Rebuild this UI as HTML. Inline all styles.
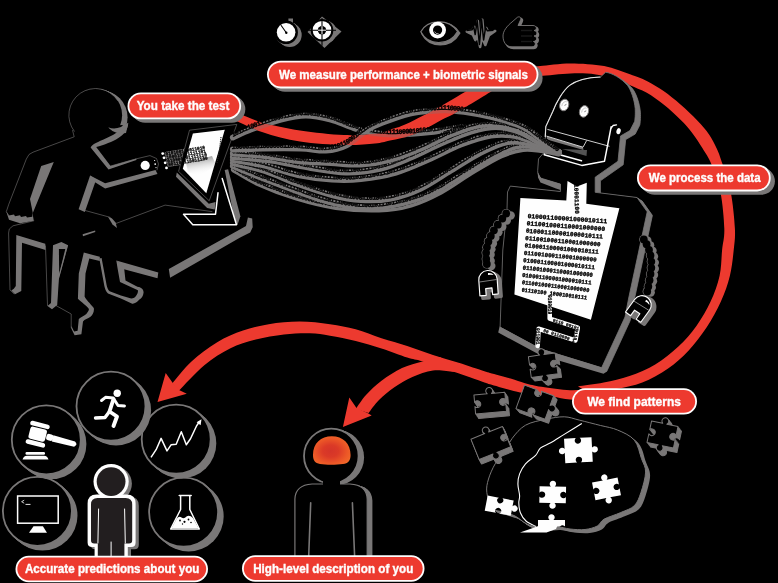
<!DOCTYPE html>
<html><head><meta charset="utf-8"><title>How it works</title>
<style>
html,body{margin:0;padding:0;background:#000;}
body{width:778px;height:583px;overflow:hidden;font-family:"Liberation Sans",sans-serif;}
svg{display:block}
.lbl{font-family:"Liberation Sans",sans-serif;font-weight:bold;font-size:12.2px;fill:#fff}
.bin{font-family:"Liberation Mono",monospace;font-weight:bold}
</style></head>
<body>
<svg width="778" height="583" viewBox="0 0 778 583">
<rect width="778" height="583" fill="#000"/>
<g style="will-change:opacity;opacity:0.999">
<path d="M236.0,112.0 C240.3,113.8 251.3,119.4 262.0,122.5 C272.7,125.6 286.3,128.4 300.0,130.5 C313.7,132.6 331.5,134.5 344.0,135.0 C356.5,135.5 367.3,134.4 375.0,133.5 C382.7,132.6 384.7,131.3 390.0,129.7 C395.3,128.1 398.4,127.7 406.8,123.8 C415.2,119.9 429.9,112.1 440.5,106.2 C451.1,100.3 464.8,92.0 470.7,88.5 C476.6,85.0 475.1,85.6 476.0,85.0 L500.0,85.0 C499.3,85.6 503.1,84.0 496.0,88.5 C488.9,93.0 466.6,106.7 457.3,112.0 C448.1,117.3 447.5,116.8 440.5,120.4 C433.5,124.1 423.6,130.5 415.2,133.9 C406.8,137.3 396.7,139.0 390.0,140.6 C383.3,142.2 382.7,142.8 375.0,143.5 C367.3,144.2 356.5,145.3 344.0,145.0 C331.5,144.7 313.7,143.7 300.0,141.5 C286.3,139.3 274.0,136.1 262.0,132.0 C250.0,127.9 233.7,119.5 228.0,117.0Z" fill="#ee3b30" />
<path d="M532.0,66.5 C533.4,66.4 533.8,66.5 540.2,66.0 C546.6,65.5 559.9,63.4 570.5,63.4 C581.1,63.4 594.2,64.2 604.1,66.0 C614.0,67.8 622.9,71.8 630.0,74.3 C637.1,76.8 641.2,78.2 646.8,81.0 C652.4,83.8 658.0,87.2 663.6,91.1 C669.2,95.0 674.9,99.7 680.5,104.6 C686.1,109.5 692.6,115.6 697.3,120.5 C702.0,125.4 705.7,129.6 708.9,134.2 C712.1,138.8 714.4,143.4 716.6,148.3 C718.9,153.2 720.0,156.4 722.4,163.8 C724.8,171.2 728.7,181.8 730.8,192.6 C732.9,203.4 734.4,219.0 734.9,228.6 C735.4,238.2 734.5,242.2 733.7,250.0 C732.9,257.9 732.0,267.1 729.9,275.7 C727.8,284.3 724.8,292.9 720.9,301.5 C717.0,310.1 712.1,319.1 706.7,327.2 C701.3,335.3 695.1,343.5 688.7,350.4 C682.3,357.3 675.8,363.0 668.1,368.4 C660.4,373.8 650.9,379.2 642.3,382.6 C633.7,386.0 625.3,387.3 616.6,389.0 C607.9,390.7 594.4,392.3 590.0,393.0 L578.0,386.4 C582.3,385.8 595.1,384.3 603.7,382.6 C612.3,380.9 620.9,379.1 629.5,376.1 C638.1,373.1 647.1,369.4 655.2,364.5 C663.4,359.6 671.5,352.9 678.4,346.5 C685.3,340.1 691.0,333.4 696.4,325.9 C701.8,318.4 706.7,309.9 710.6,301.5 C714.5,293.1 717.7,284.3 719.6,275.7 C721.5,267.1 721.3,257.9 722.1,250.0 C722.9,242.2 724.6,238.2 724.3,228.6 C724.0,219.0 722.6,203.3 720.5,192.6 C718.4,181.9 714.5,171.8 711.5,164.4 C708.5,157.0 705.7,153.6 702.5,148.3 C699.3,143.1 695.9,137.7 692.2,132.9 C688.5,128.1 685.3,124.4 680.5,119.7 C675.7,115.0 669.2,109.1 663.6,104.6 C658.0,100.1 652.4,96.0 646.8,92.8 C641.2,89.6 634.3,87.3 630.0,85.2 C625.7,83.1 626.6,82.1 620.9,80.3 C615.2,78.5 604.1,75.5 595.7,74.4 C587.3,73.3 579.8,73.2 570.5,73.5 C561.2,73.8 546.6,75.6 540.2,76.1 C533.8,76.6 533.4,76.4 532.0,76.5Z" fill="#ee3b30" />
<path d="M604.0,384.0 C601.7,384.8 595.7,387.5 590.0,388.5 C584.3,389.5 578.1,390.5 570.0,390.2 C561.9,389.9 549.0,388.0 541.5,386.8 C534.0,385.6 530.1,384.6 525.0,383.2 C519.9,381.8 516.4,380.2 510.6,378.5 C504.8,376.8 494.4,374.1 490.0,372.9 C485.6,371.7 489.6,373.0 484.4,371.3 C479.2,369.6 467.3,365.5 458.7,362.8 C450.1,360.1 441.6,357.8 433.0,355.0 C424.4,352.2 415.8,348.8 407.2,346.0 C398.6,343.2 390.1,341.1 381.5,338.3 C372.9,335.5 364.3,331.7 355.7,329.3 C347.1,326.9 339.4,325.5 330.0,324.2 C320.6,322.9 309.8,321.6 299.6,321.6 C289.4,321.6 278.1,322.7 268.7,324.2 C259.3,325.7 251.6,327.6 243.0,330.6 C234.4,333.6 225.8,337.1 217.2,342.2 C208.6,347.3 199.0,354.6 191.5,361.5 C184.0,368.4 175.4,379.8 172.2,383.4 L178.6,391.1 C182.9,386.8 195.7,372.4 204.3,365.3 C212.9,358.2 221.4,352.9 230.0,348.6 C238.6,344.3 246.8,342.0 255.8,339.6 C264.8,337.2 275.0,335.6 284.0,334.5 C293.0,333.4 302.2,333.0 309.9,333.2 C317.6,333.4 322.4,334.4 330.0,335.7 C337.6,337.0 347.1,338.8 355.7,340.9 C364.3,343.0 372.9,345.8 381.5,348.6 C390.1,351.4 400.3,355.5 407.2,357.6 C414.1,359.8 415.0,359.1 422.7,361.5 C430.4,363.9 443.3,368.3 453.6,371.8 C463.9,375.3 478.3,380.3 484.4,382.4 C490.5,384.5 485.1,382.8 490.0,384.2 C494.9,385.6 507.0,389.3 513.7,390.9 C520.4,392.5 523.6,392.9 530.0,393.8 C536.4,394.7 545.1,395.5 551.8,396.5 C558.5,397.5 563.6,399.0 570.0,399.6 C576.4,400.2 584.3,400.3 590.0,400.0 C595.7,399.7 601.7,398.3 604.0,398.0Z" fill="#ee3b30" />
<polygon points="157.5,401.9 165.7,373.0 173.5,384.0 179.0,390.0 186.8,393.7" fill="#ee3b30" />
<path d="M440.0,357.0 C437.1,357.8 429.0,359.7 422.7,361.5 C416.4,363.3 408.9,364.8 402.0,368.0 C395.1,371.2 387.5,376.3 381.5,380.8 C375.5,385.3 370.3,390.3 366.0,395.0 C361.7,399.7 357.4,406.7 355.7,409.0 L368.6,413.0 C370.3,410.8 374.7,404.3 379.0,400.0 C383.3,395.7 388.8,391.0 394.4,387.2 C400.0,383.4 406.0,379.8 412.4,377.0 C418.8,374.2 426.1,371.4 433.0,370.5 C439.9,369.6 449.1,371.4 453.6,371.8 C458.1,372.2 458.9,372.8 460.0,373.0Z" fill="#ee3b30" />
<polygon points="342.9,427.1 349.3,397.5 356.5,408.0 367.5,413.0 371.7,415.5" fill="#ee3b30" />
<g id="man">
<circle cx="96.54" cy="115.70" r="26.9" fill="#7a7878"/>
<circle cx="97.58" cy="116.10" r="26.9" fill="#7a7878"/>
<circle cx="98.62" cy="116.50" r="26.9" fill="#7a7878"/>
<circle cx="99.66" cy="116.90" r="26.9" fill="#7a7878"/>
<circle cx="100.70" cy="117.30" r="26.9" fill="#7a7878"/>
<circle cx="95.5" cy="115.3" r="26.6" fill="#000"/>
<polygon points="73.5,128.0 74.0,137.5 60.0,143.0 80.0,160.0 108.0,170.0 125.0,140.0 122.5,125.0" fill="#000" />
<path d="M128.2,123.2 C128,135.5 113,142.3 96.2,147 L110.6,166 L136.4,158.6 L136.4,160 L108.5,169.5 L90.6,147.6 C93,141 118,137 121.8,126.5 Z" fill="#7a7878" />
<path d="M108.3,127.2 C114,129.8 121,128.2 128.3,122.8 L126,133 C119,134.5 112,132 108.3,127.2Z" fill="#7a7878" />
<polygon points="41.2,166.0 53.8,162.1 32.8,213.0 30.0,199.0" fill="#7a7878" />
<polygon points="6.3,211.7 8.8,215.4 14.0,214.5 15.0,216.2 20.0,215.3 21.0,217.0 26.0,216.0 27.0,217.5 32.3,216.7 32.3,212.0 33.8,220.8 20.0,223.3 9.0,219.8" fill="#7a7878" />
<polygon points="90.1,175.4 96.0,180.0 84.8,212.0 78.6,209.2" fill="#7a7878" />
<polygon points="90.1,175.4 105.1,183.2 155.5,170.0 157.5,174.0 105.1,188.5 93.0,181.0" fill="#7a7878" />
<polygon points="108.0,216.8 112.0,218.5 115.6,222.5 117.0,228.0 112.5,224.5" fill="#7a7878" />
<polygon points="16.3,235.0 45.3,243.8 45.5,250.0 22.0,242.7 21.3,291.0 15.0,294.3 11.3,290.5 13.8,288.8 15.8,286.0" fill="#7a7878" />
<polygon points="53.0,245.3 61.4,242.0 68.1,245.3 58.9,279.0 57.2,305.0 52.0,309.3 47.5,306.0 51.0,303.0" fill="#7a7878" />
<polygon points="58.9,249.0 65.3,249.0 59.2,274.0" fill="#000" />
<path d="M83.8,252.6 L99.8,256.8 L99.8,261 L89.3,258.5 L85.5,273.6 L84.6,296.5 C86,300 90,303 93.8,308.1 C94.5,311.5 92.5,315 90.5,316.8 C88,318.5 84.5,319.5 83,321.5 L81.4,334.3 L74.6,335.2 L71.2,328.3 L71.4,326 L74.1,331.6 L77.6,330.8 L78.8,319 C80.5,317 84.5,316 86.3,314 C88,312 89,310.5 88.9,308.9 C87,306 81,302 77.9,298.8 L78.8,273.6 Z" fill="#7a7878" />
<path d="M116.3,260.4 L124,267 L125.5,280.5 L137.4,286.7 C141,287.2 143.6,289 143.6,292.4 C143.2,296 141.5,298.2 139.4,299.6 C137,302.5 134.5,304 132.2,303.7 L120.9,298.6 L108,293.4 C106,291.5 105,289 104.4,286.2 L99.3,258.4 L101.6,258 L106.6,285 C107.2,288 108.2,290 109.6,291.3 L120.9,295.5 L131.2,298.6 C133.5,298.6 135.2,297.2 136.3,295.5 C137.5,294 138.2,292 137.9,290.3 L120,282.1 L117.5,268 Z" fill="#7a7878" />
<polygon points="116.3,260.4 158.3,272.4 157.5,278.2 124.0,269.2" fill="#7a7878" />
<polygon points="168.8,268.9 238.9,230.1 246.0,226.0 247.9,217.6 252.2,218.6 252.7,227.3 250.2,232.6 240.2,237.6 170.1,277.7" fill="#7a7878" />
<polygon points="82.6,234.2 95.1,230.5 95.3,232.0 83.0,236.2" fill="#7a7878" />
<path d="M74.5,131.5 A26.6,26.6 0 1 1 118,101" fill="none" stroke="#7a7878" stroke-width="0.6"/>
<polyline points="72.6,130.5 74.2,136.8 33.0,152.2 29.0,154.5 26.3,159.1 8.8,204.2 6.3,211.7 8.8,215.4" fill="none" stroke="#7a7878" stroke-width="0.6" stroke-linejoin="round" stroke-linecap="round" />
<polyline points="110.6,166.0 136.4,158.8 150.0,155.6 156.5,158.5 158.5,164.0 157.0,170.0" fill="none" stroke="#7a7878" stroke-width="0.6" stroke-linejoin="round" stroke-linecap="round" />
<polyline points="85.1,210.5 110.1,217.3 115.1,223.8 165.1,205.1 212.0,211.6" fill="none" stroke="#7a7878" stroke-width="0.6" stroke-linejoin="round" stroke-linecap="round" />
<polyline points="33.8,220.8 13.0,225.8 9.3,229.0 8.6,233.0 10.0,290.0 14.0,293.8" fill="none" stroke="#7a7878" stroke-width="0.6" stroke-linejoin="round" stroke-linecap="round" />
<polyline points="45.5,246.0 47.5,305.5" fill="none" stroke="#7a7878" stroke-width="0.6" stroke-linejoin="round" stroke-linecap="round" />
<polyline points="67.3,245.9 57.8,280.3 56.1,305.6 71.2,314.0 71.2,327.4" fill="none" stroke="#7a7878" stroke-width="0.6" stroke-linejoin="round" stroke-linecap="round" />
<circle cx="145.2" cy="165.4" r="4.6" fill="#fff"/>
<circle cx="155.2" cy="164.1" r="0.9" fill="#fff"/>
<circle cx="154.6" cy="160.5" r="0.6" fill="#fff"/>
<circle cx="156" cy="167.6" r="0.6" fill="#fff"/>
<circle cx="162.7" cy="153.6" r="1.4" fill="#fff"/>
<circle cx="164" cy="157.8" r="1.4" fill="#fff"/>
<circle cx="165.2" cy="162.8" r="1.4" fill="#fff"/>
<circle cx="166.5" cy="167.9" r="1.4" fill="#fff"/>
<g transform="translate(167,166.5) rotate(-9.5)">
<rect x="0.5" y="-3.6" width="30" height="4.2" rx="2" fill="#7a7878"/>
<rect x="0.2" y="-7.3" width="30" height="4.2" rx="2" fill="#7a7878"/>
<rect x="-0.1" y="-11.0" width="30" height="4.2" rx="2" fill="#7a7878"/>
<rect x="-0.4" y="-14.7" width="30" height="4.2" rx="2" fill="#7a7878"/>
</g>
<polygon points="176.8,172.6 208.8,203.7 215.5,202.0 214.7,209.6 207.1,207.9 176.0,176.8" fill="#7a7878" />
<polygon points="224.7,170.1 228.1,169.2 240.4,216.3 237.4,225.3 234.0,217.2" fill="#7a7878" />
<polygon points="189.5,130.2 236.8,124.4 209.2,200.8 178.6,171.4" fill="#000" stroke="#7a7878" stroke-width="0.6"/>
<polygon points="192.9,133.5 224.8,129.8 206.3,193.2 182.8,168.8" fill="#fff" />
<defs><linearGradient id="scrsh" x1="0" y1="0" x2="0.25" y2="1"><stop offset="0" stop-color="#555" stop-opacity="0.85"/><stop offset="1" stop-color="#fff" stop-opacity="0"/></linearGradient><clipPath id="scrclip"><polygon points="192.9,133.5 224.8,129.8 206.3,193.2 182.8,168.8"/></clipPath></defs>
<g clip-path="url(#scrclip)"><polygon points="186,163 212,156 216,165 200,176 188,172" fill="url(#scrsh)"/></g>
<g transform="translate(167,166.5) rotate(-9.5)">
<text class="bin" x="1.5" y="0.0" font-size="4.8" fill="#000" stroke="#000" stroke-width="0.25" textLength="40" lengthAdjust="spacingAndGlyphs">001100110011100</text>
<text class="bin" x="1.2" y="-3.7" font-size="4.8" fill="#000" stroke="#000" stroke-width="0.25" textLength="40" lengthAdjust="spacingAndGlyphs">010000101111110</text>
<text class="bin" x="0.9" y="-7.4" font-size="4.8" fill="#000" stroke="#000" stroke-width="0.25" textLength="40" lengthAdjust="spacingAndGlyphs">100010111111101</text>
<text class="bin" x="0.6" y="-11.1" font-size="4.8" fill="#000" stroke="#000" stroke-width="0.25" textLength="40" lengthAdjust="spacingAndGlyphs">010100110011010</text>
</g>
<path d="M221,137 L219.5,150 L217,163" stroke="#222" stroke-width="1.1" stroke-dasharray="1.2 0.9" fill="none"/>
<polyline points="218.0,192.8 215.5,214.2 183.5,214.2 192.8,224.7 236.5,224.7 222.2,178.5" fill="none" stroke="#fff" stroke-width="1.5" stroke-linejoin="round" stroke-linecap="round" />
</g>
<g id="circles">
<circle cx="38.65" cy="512.35" r="35.1" fill="#7a7878"/><circle cx="39.90" cy="513.40" r="35.1" fill="#7a7878"/><circle cx="41.15" cy="514.45" r="35.1" fill="#7a7878"/><circle cx="42.40" cy="515.50" r="35.1" fill="#7a7878"/><circle cx="37.4" cy="511.3" r="34.5" fill="#000" stroke="#7a7878" stroke-width="1.8"/>
<circle cx="184.85" cy="513.25" r="35.1" fill="#7a7878"/><circle cx="186.10" cy="514.30" r="35.1" fill="#7a7878"/><circle cx="187.35" cy="515.35" r="35.1" fill="#7a7878"/><circle cx="188.60" cy="516.40" r="35.1" fill="#7a7878"/><circle cx="183.6" cy="512.2" r="34.5" fill="#000" stroke="#7a7878" stroke-width="1.8"/>
<circle cx="47.55" cy="440.85" r="35.1" fill="#7a7878"/><circle cx="48.80" cy="441.90" r="35.1" fill="#7a7878"/><circle cx="50.05" cy="442.95" r="35.1" fill="#7a7878"/><circle cx="51.30" cy="444.00" r="35.1" fill="#7a7878"/><circle cx="46.3" cy="439.8" r="34.5" fill="#000" stroke="#7a7878" stroke-width="1.8"/>
<circle cx="177.45" cy="440.25" r="35.1" fill="#7a7878"/><circle cx="178.70" cy="441.30" r="35.1" fill="#7a7878"/><circle cx="179.95" cy="442.35" r="35.1" fill="#7a7878"/><circle cx="181.20" cy="443.40" r="35.1" fill="#7a7878"/><circle cx="176.2" cy="439.2" r="34.5" fill="#000" stroke="#7a7878" stroke-width="1.8"/>
<circle cx="112.25" cy="407.25" r="35.1" fill="#7a7878"/><circle cx="113.50" cy="408.30" r="35.1" fill="#7a7878"/><circle cx="114.75" cy="409.35" r="35.1" fill="#7a7878"/><circle cx="116.00" cy="410.40" r="35.1" fill="#7a7878"/><circle cx="111" cy="406.2" r="34.5" fill="#000" stroke="#7a7878" stroke-width="1.8"/>
<g fill="none" stroke="#fff" stroke-linecap="round" stroke-linejoin="round">
<circle cx="117.2" cy="393.2" r="3.7" fill="#fff" stroke="none"/>
<path d="M101.5,400.5 L105.5,397.3 L113.2,398 L118,405.5 L124.5,406" stroke-width="2.9"/>
<path d="M113.5,399 L109.5,411.5 L117,416.5 L113.5,426" stroke-width="3.9"/>
<path d="M109.5,411.5 L105,417.5 L95.5,418" stroke-width="3.4"/>
</g>
<g fill="#fff">
<g transform="translate(38,435) rotate(14)">
<rect x="-10.5" y="-12.5" width="20" height="4.6" rx="2.2"/>
<rect x="-9" y="-7" width="17" height="12.5" rx="2.5"/>
<rect x="-10.5" y="6.5" width="20" height="4.6" rx="2.2"/>
<rect x="8.5" y="-3.8" width="7" height="6.5" rx="2.5"/>
<path d="M15,-3.4 L37.5,-2.6 Q41.5,-0.2 37.8,2.6 L15,3 Z"/>
</g>
<rect x="25.5" y="452" width="19.5" height="2.8" rx="1.2"/>
<path d="M22.5,459.5 Q23.5,456 27,455.8 L44,455.8 Q47.5,456 48.5,459.5 Z"/>
</g>
<polyline points="151,457.3 156.1,449.7 161.1,438.4 167,450.9 171.2,444.7 176.2,444.2 181.3,431.7 186.3,444.7 190.5,438.8 196.4,426.2 199.2,422" fill="none" stroke="#fff" stroke-width="1.5" stroke-linejoin="round"/>
<polygon points="201.5,419.3 200.6,425.2 196.6,422.3" fill="#fff"/>
<rect x="17.6" y="496" width="40.6" height="27.2" fill="none" stroke="#fff" stroke-width="1.5"/>
<polygon points="33.5,526.2 42.9,526.2 47,532.8 29,532.8" fill="#fff"/>
<polyline points="24.2,500.2 21.6,501.7 24.2,503.2" fill="none" stroke="#fff" stroke-width="0.8"/>
<line x1="25.5" y1="504.4" x2="30.5" y2="504.4" stroke="#fff" stroke-width="0.9"/>
<g>
<path d="M179.2,495.5 L191.2,495.5 M180.6,496 L180.6,509.5 L170.7,529 L199.3,529 L189.8,509.5 L189.8,496" fill="none" stroke="#fff" stroke-width="1.5" stroke-linejoin="round" stroke-linecap="round"/>
<path d="M176.5,519 Q179,515.5 181.5,517.5 Q184,519.5 186.5,516.5 Q189.5,514.5 193,518 L198.5,528.3 L171.5,528.3 Z" fill="#fff"/>
<circle cx="180" cy="520.5" r="0.9" fill="#000"/>
<circle cx="184.5" cy="521.8" r="1.1" fill="#000"/>
<circle cx="188.5" cy="519.5" r="0.9" fill="#000"/>
<circle cx="191" cy="522.5" r="0.8" fill="#000"/>
<circle cx="182.5" cy="524" r="0.7" fill="#000"/>
</g>
<g fill="#7a7878" transform="translate(3.2,2.2)"><circle cx="111.1" cy="481.6" r="17.6"/><path d="M87.6,542.5 L87.6,503.5 Q87.6,494.5 96.6,494.5 L126.6,494.5 Q135.6,494.5 135.6,503.5 L135.6,542.5 Q135.6,547 131.1,547 L127.8,547 L127.8,560 L94.6,560 L94.6,547 L92.1,547 Q87.6,547 87.6,542.5 Z"/></g>
<g fill="#fff"><circle cx="111.1" cy="481.6" r="17.6"/><path d="M87.6,542.5 L87.6,503.5 Q87.6,494.5 96.6,494.5 L126.6,494.5 Q135.6,494.5 135.6,503.5 L135.6,542.5 Q135.6,547 131.1,547 L127.8,547 L127.8,560 L94.6,560 L94.6,547 L92.1,547 Q87.6,547 87.6,542.5 Z"/></g>
<g fill="#231f20"><circle cx="111.1" cy="481.6" r="14.4"/><path d="M91,540.3 L91,504.5 Q91,498 97.5,498 L125.69999999999999,498 Q132.2,498 132.2,504.5 L132.2,540.3 Q132.2,543.5 129.0,543.5 L124.4,543.5 L124.4,560 L97.8,560 L97.8,543.5 L94.2,543.5 Q91,543.5 91,540.3 Z"/></g>
<path d="M98.6,509 L97.9,543 M124.6,509 L125.3,543 M111.1,542 L111.1,560" stroke="#fff" stroke-width="1" fill="none" stroke-linecap="round"/>
</g>
<g id="robot">
<path d="M543.5,153 L545.8,126.6 L552.9,111.2 C556,103 563,90.5 569.6,85.4 C576,80.5 588,77.5 600.5,77 L605.6,72.3 C612,73 621,78 627.5,85.4 C631,90 634.5,100 635.2,108.6 C635.5,115 635,119 634.6,121.5 L630,130.5 L620.5,136 L618,161.2 L595.2,177.2 L595.2,192.3 L637,197.5 L647.2,211.8 L628.7,298 L625,317 L601.6,367.7 L540.5,349 L500.1,327.2 L502.8,250 L507,208.9 L507.5,192 L510.3,186.1 L560.4,191.5 L560.4,184.1 L541,178.2 C538.5,176 537.5,173 537.7,170.6 L538.5,158.9 Z" fill="#7a7878" stroke="#7a7878" stroke-width="0.8" transform="translate(0.87,0.60)"/><path d="M543.5,153 L545.8,126.6 L552.9,111.2 C556,103 563,90.5 569.6,85.4 C576,80.5 588,77.5 600.5,77 L605.6,72.3 C612,73 621,78 627.5,85.4 C631,90 634.5,100 635.2,108.6 C635.5,115 635,119 634.6,121.5 L630,130.5 L620.5,136 L618,161.2 L595.2,177.2 L595.2,192.3 L637,197.5 L647.2,211.8 L628.7,298 L625,317 L601.6,367.7 L540.5,349 L500.1,327.2 L502.8,250 L507,208.9 L507.5,192 L510.3,186.1 L560.4,191.5 L560.4,184.1 L541,178.2 C538.5,176 537.5,173 537.7,170.6 L538.5,158.9 Z" fill="#7a7878" stroke="#7a7878" stroke-width="0.8" transform="translate(1.73,1.20)"/><path d="M543.5,153 L545.8,126.6 L552.9,111.2 C556,103 563,90.5 569.6,85.4 C576,80.5 588,77.5 600.5,77 L605.6,72.3 C612,73 621,78 627.5,85.4 C631,90 634.5,100 635.2,108.6 C635.5,115 635,119 634.6,121.5 L630,130.5 L620.5,136 L618,161.2 L595.2,177.2 L595.2,192.3 L637,197.5 L647.2,211.8 L628.7,298 L625,317 L601.6,367.7 L540.5,349 L500.1,327.2 L502.8,250 L507,208.9 L507.5,192 L510.3,186.1 L560.4,191.5 L560.4,184.1 L541,178.2 C538.5,176 537.5,173 537.7,170.6 L538.5,158.9 Z" fill="#7a7878" stroke="#7a7878" stroke-width="0.8" transform="translate(2.60,1.80)"/><path d="M543.5,153 L545.8,126.6 L552.9,111.2 C556,103 563,90.5 569.6,85.4 C576,80.5 588,77.5 600.5,77 L605.6,72.3 C612,73 621,78 627.5,85.4 C631,90 634.5,100 635.2,108.6 C635.5,115 635,119 634.6,121.5 L630,130.5 L620.5,136 L618,161.2 L595.2,177.2 L595.2,192.3 L637,197.5 L647.2,211.8 L628.7,298 L625,317 L601.6,367.7 L540.5,349 L500.1,327.2 L502.8,250 L507,208.9 L507.5,192 L510.3,186.1 L560.4,191.5 L560.4,184.1 L541,178.2 C538.5,176 537.5,173 537.7,170.6 L538.5,158.9 Z" fill="#7a7878" stroke="#7a7878" stroke-width="0.8" transform="translate(3.47,2.40)"/><path d="M543.5,153 L545.8,126.6 L552.9,111.2 C556,103 563,90.5 569.6,85.4 C576,80.5 588,77.5 600.5,77 L605.6,72.3 C612,73 621,78 627.5,85.4 C631,90 634.5,100 635.2,108.6 C635.5,115 635,119 634.6,121.5 L630,130.5 L620.5,136 L618,161.2 L595.2,177.2 L595.2,192.3 L637,197.5 L647.2,211.8 L628.7,298 L625,317 L601.6,367.7 L540.5,349 L500.1,327.2 L502.8,250 L507,208.9 L507.5,192 L510.3,186.1 L560.4,191.5 L560.4,184.1 L541,178.2 C538.5,176 537.5,173 537.7,170.6 L538.5,158.9 Z" fill="#7a7878" stroke="#7a7878" stroke-width="0.8" transform="translate(4.33,3.00)"/><path d="M543.5,153 L545.8,126.6 L552.9,111.2 C556,103 563,90.5 569.6,85.4 C576,80.5 588,77.5 600.5,77 L605.6,72.3 C612,73 621,78 627.5,85.4 C631,90 634.5,100 635.2,108.6 C635.5,115 635,119 634.6,121.5 L630,130.5 L620.5,136 L618,161.2 L595.2,177.2 L595.2,192.3 L637,197.5 L647.2,211.8 L628.7,298 L625,317 L601.6,367.7 L540.5,349 L500.1,327.2 L502.8,250 L507,208.9 L507.5,192 L510.3,186.1 L560.4,191.5 L560.4,184.1 L541,178.2 C538.5,176 537.5,173 537.7,170.6 L538.5,158.9 Z" fill="#7a7878" stroke="#7a7878" stroke-width="0.8" transform="translate(5.20,3.60)"/><path d="M543.5,153 L545.8,126.6 L552.9,111.2 C556,103 563,90.5 569.6,85.4 C576,80.5 588,77.5 600.5,77 L605.6,72.3 C612,73 621,78 627.5,85.4 C631,90 634.5,100 635.2,108.6 C635.5,115 635,119 634.6,121.5 L630,130.5 L620.5,136 L618,161.2 L595.2,177.2 L595.2,192.3 L637,197.5 L647.2,211.8 L628.7,298 L625,317 L601.6,367.7 L540.5,349 L500.1,327.2 L502.8,250 L507,208.9 L507.5,192 L510.3,186.1 L560.4,191.5 L560.4,184.1 L541,178.2 C538.5,176 537.5,173 537.7,170.6 L538.5,158.9 Z" fill="#000" stroke="#7a7878" stroke-width="0.8" stroke-linejoin="round"/>
<polygon points="499.6,326.5 540.5,348.6 601.8,367.4 607.0,371.5 603.5,373.8 540.0,355.0 498.2,332.6" fill="#7a7878" />
<polygon points="537.7,172.0 541.2,178.2 560.6,184.1 560.6,190.0 556.0,188.6 540.5,182.5 538.0,177.5" fill="#7a7878" />
<circle cx="510.7" cy="215.5" r="4.2" fill="#7a7878"/><circle cx="506.2" cy="213.5" r="4.6" fill="#7a7878"/><circle cx="506.8" cy="220.6" r="4.2" fill="#7a7878"/><circle cx="502.3" cy="218.6" r="4.6" fill="#7a7878"/><circle cx="502.3" cy="226.7" r="4.2" fill="#7a7878"/><circle cx="497.8" cy="224.7" r="4.6" fill="#7a7878"/><circle cx="498.4" cy="232.3" r="4.2" fill="#7a7878"/><circle cx="493.9" cy="230.3" r="4.6" fill="#7a7878"/><circle cx="495.3" cy="237.9" r="4.2" fill="#7a7878"/><circle cx="490.8" cy="235.9" r="4.6" fill="#7a7878"/><circle cx="492.9" cy="243.6" r="4.2" fill="#7a7878"/><circle cx="488.4" cy="241.6" r="4.6" fill="#7a7878"/><circle cx="491.4" cy="249.2" r="4.2" fill="#7a7878"/><circle cx="486.9" cy="247.2" r="4.6" fill="#7a7878"/><circle cx="490.6" cy="254.8" r="4.2" fill="#7a7878"/><circle cx="486.1" cy="252.8" r="4.6" fill="#7a7878"/><circle cx="490.7" cy="260.9" r="4.2" fill="#7a7878"/><circle cx="486.2" cy="258.9" r="4.6" fill="#7a7878"/><circle cx="491.3" cy="266.0" r="4.2" fill="#7a7878"/><circle cx="486.8" cy="264.0" r="4.6" fill="#7a7878"/><circle cx="506.2" cy="213.5" r="3.9" fill="#000"/><circle cx="502.3" cy="218.6" r="3.9" fill="#000"/><circle cx="497.8" cy="224.7" r="3.9" fill="#000"/><circle cx="493.9" cy="230.3" r="3.9" fill="#000"/><circle cx="490.8" cy="235.9" r="3.9" fill="#000"/><circle cx="488.4" cy="241.6" r="3.9" fill="#000"/><circle cx="486.9" cy="247.2" r="3.9" fill="#000"/><circle cx="486.1" cy="252.8" r="3.9" fill="#000"/><circle cx="486.2" cy="258.9" r="3.9" fill="#000"/><circle cx="486.8" cy="264.0" r="3.9" fill="#000"/>
<circle cx="647.3" cy="240.5" r="4.2" fill="#7a7878"/><circle cx="643.8" cy="239.5" r="4.6" fill="#7a7878"/><circle cx="650.1" cy="245.2" r="4.2" fill="#7a7878"/><circle cx="646.6" cy="244.2" r="4.6" fill="#7a7878"/><circle cx="652.5" cy="250.8" r="4.2" fill="#7a7878"/><circle cx="649.0" cy="249.8" r="4.6" fill="#7a7878"/><circle cx="654.0" cy="256.5" r="4.2" fill="#7a7878"/><circle cx="650.5" cy="255.5" r="4.6" fill="#7a7878"/><circle cx="654.8" cy="262.6" r="4.2" fill="#7a7878"/><circle cx="651.3" cy="261.6" r="4.6" fill="#7a7878"/><circle cx="654.8" cy="268.8" r="4.2" fill="#7a7878"/><circle cx="651.3" cy="267.8" r="4.6" fill="#7a7878"/><circle cx="654.0" cy="275.0" r="4.2" fill="#7a7878"/><circle cx="650.5" cy="274.0" r="4.6" fill="#7a7878"/><circle cx="653.0" cy="281.2" r="4.2" fill="#7a7878"/><circle cx="649.5" cy="280.2" r="4.6" fill="#7a7878"/><circle cx="651.8" cy="287.4" r="4.2" fill="#7a7878"/><circle cx="648.3" cy="286.4" r="4.6" fill="#7a7878"/><circle cx="650.7" cy="292.6" r="4.2" fill="#7a7878"/><circle cx="647.2" cy="291.6" r="4.6" fill="#7a7878"/><circle cx="643.8" cy="239.5" r="3.9" fill="#000"/><circle cx="646.6" cy="244.2" r="3.9" fill="#000"/><circle cx="649.0" cy="249.8" r="3.9" fill="#000"/><circle cx="650.5" cy="255.5" r="3.9" fill="#000"/><circle cx="651.3" cy="261.6" r="3.9" fill="#000"/><circle cx="651.3" cy="267.8" r="3.9" fill="#000"/><circle cx="650.5" cy="274.0" r="3.9" fill="#000"/><circle cx="649.5" cy="280.2" r="3.9" fill="#000"/><circle cx="648.3" cy="286.4" r="3.9" fill="#000"/><circle cx="647.2" cy="291.6" r="3.9" fill="#000"/>
<polygon points="520.4,197.9 566.3,200.4 567.5,181.1 577.0,186.5 586.8,182.8 586.3,203.8 619.4,208.2 590.9,319.7 514.4,294.5" fill="#fff" />
<polyline points="549.7,293.0 549.7,318.6 577.8,327.6 575.4,340.4 538.6,328.8 537.6,346.0" fill="none" stroke="#fff" stroke-width="4.6" stroke-linejoin="round" stroke-linecap="round" stroke-linejoin="miter" stroke-linecap="butt"/>
<text class="bin" x="527.4" y="217.9" font-size="6.30" fill="#000" stroke="#000" stroke-width="0.32" transform="rotate(3.80 527.4 217.9)" textLength="79.8" lengthAdjust="spacingAndGlyphs">010001100001000010111</text><text class="bin" x="526.5" y="225.3" font-size="6.24" fill="#000" stroke="#000" stroke-width="0.32" transform="rotate(4.12 526.5 225.3)" textLength="78.7" lengthAdjust="spacingAndGlyphs">011001000110001000000</text><text class="bin" x="525.7" y="232.6" font-size="6.18" fill="#000" stroke="#000" stroke-width="0.32" transform="rotate(4.44 525.7 232.6)" textLength="77.3" lengthAdjust="spacingAndGlyphs">010001100001000010111</text><text class="bin" x="525.1" y="240.0" font-size="6.12" fill="#000" stroke="#000" stroke-width="0.32" transform="rotate(4.76 525.1 240.0)" textLength="75.6" lengthAdjust="spacingAndGlyphs">011001000110001000000</text><text class="bin" x="524.6" y="247.3" font-size="6.06" fill="#000" stroke="#000" stroke-width="0.32" transform="rotate(5.08 524.6 247.3)" textLength="74.2" lengthAdjust="spacingAndGlyphs">010001100001000010111</text><text class="bin" x="523.7" y="254.7" font-size="6.00" fill="#000" stroke="#000" stroke-width="0.32" transform="rotate(5.40 523.7 254.7)" textLength="73.0" lengthAdjust="spacingAndGlyphs">011001000110001000000</text><text class="bin" x="523.1" y="262.1" font-size="5.94" fill="#000" stroke="#000" stroke-width="0.32" transform="rotate(5.72 523.1 262.1)" textLength="71.9" lengthAdjust="spacingAndGlyphs">010001100001000010111</text><text class="bin" x="522.6" y="269.4" font-size="5.88" fill="#000" stroke="#000" stroke-width="0.32" transform="rotate(6.04 522.6 269.4)" textLength="70.5" lengthAdjust="spacingAndGlyphs">011001000110001000000</text><text class="bin" x="522.0" y="276.8" font-size="5.82" fill="#000" stroke="#000" stroke-width="0.32" transform="rotate(6.36 522.0 276.8)" textLength="69.6" lengthAdjust="spacingAndGlyphs">010001100001000010111</text><text class="bin" x="521.7" y="284.1" font-size="5.76" fill="#000" stroke="#000" stroke-width="0.32" transform="rotate(6.68 521.7 284.1)" textLength="68.0" lengthAdjust="spacingAndGlyphs">011001000110001000000</text><text class="bin" x="521.4" y="291.5" font-size="5.70" fill="#000" stroke="#000" stroke-width="0.32" transform="rotate(7.00 521.4 291.5)" textLength="66.0" lengthAdjust="spacingAndGlyphs">01110100 100010010111</text>
<rect x="572" y="205" width="7.5" height="10.5" fill="#fff" transform="rotate(2.3 572 205)"/>
<text class="bin" font-size="6.2" fill="#000" stroke="#000" stroke-width="0.25" transform="translate(574.2,184) rotate(88)" textLength="30" lengthAdjust="spacing">10001100</text>
<text class="bin" font-size="4.6" fill="#000" stroke="#000" stroke-width="0.2" transform="translate(548.1,295) rotate(90)">0100010</text>
<text class="bin" font-size="4.6" fill="#000" stroke="#000" stroke-width="0.2" transform="translate(552.5,321.5) rotate(18)">0110 00101</text>
<text class="bin" font-size="4.6" fill="#000" stroke="#000" stroke-width="0.2" transform="translate(543,331.8) rotate(18)">00 0110000 1</text>
<text class="bin" font-size="4.6" fill="#000" stroke="#000" stroke-width="0.2" transform="translate(536.1,328) rotate(90)">011001</text>
<text class="bin" font-size="4.6" fill="#000" stroke="#000" stroke-width="0.2" transform="translate(575.2,329) rotate(98)">0110</text>
<path d="M545.2,140 L545.8,126.6 L552.9,111.2 C556,103 563,90.5 569.6,85.4 C576,80.5 588,77.5 600.5,77" fill="none" stroke="#e6e6e6" stroke-width="1.1"/>
<polyline points="547.8,129.5 609.1,146.2" fill="none" stroke="#e6e6e6" stroke-width="0.9" stroke-linejoin="round" stroke-linecap="round" />
<polygon points="546.8,136.5 583.0,147.2 583.5,150.0 546.8,139.5" fill="#7a7878" />
<polygon points="562.0,149.0 586.5,156.0 587.0,150.0 583.5,150.0" fill="#555" />
<polyline points="546.8,136.2 583.0,147.2 586.5,140.8" fill="none" stroke="#e6e6e6" stroke-width="0.9" stroke-linejoin="round" stroke-linecap="round" />
<polyline points="611.4,128.0 613.0,125.5 616.5,124.8" fill="none" stroke="#fff" stroke-width="1.3" stroke-linejoin="round" stroke-linecap="round" />
<polyline points="611.2,126.7 604.5,161.2 581.8,165.4 544.2,154.8 545.3,150.8 581.5,160.8" fill="none" stroke="#fff" stroke-width="1.5" stroke-linejoin="round" stroke-linecap="round" />
<ellipse cx="618.5" cy="131.1" rx="2.1" ry="3.1" fill="#fff" transform="rotate(15 618.4 131.4)"/>
<ellipse cx="564.2" cy="105" rx="4.5" ry="5.9" fill="#fff" stroke="#7a7878" stroke-width="0.9" transform="rotate(17 564.2 105)"/>
<path d="M561.8000000000001,106.2 A3.2,4.4 17 0 1 566.8000000000001,101.8" fill="none" stroke="#999" stroke-width="0.5"/>
<path d="M564.5,105.4 L566.4000000000001,104.4" fill="none" stroke="#333" stroke-width="0.6"/>
<ellipse cx="584" cy="111.4" rx="4.5" ry="5.9" fill="#fff" stroke="#7a7878" stroke-width="0.9" transform="rotate(17 584 111.4)"/>
<path d="M581.6,112.60000000000001 A3.2,4.4 17 0 1 586.6,108.2" fill="none" stroke="#999" stroke-width="0.5"/>
<path d="M584.3,111.80000000000001 L586.2,110.80000000000001" fill="none" stroke="#333" stroke-width="0.6"/>
<g transform="translate(488.2,282.7) rotate(-4)"><path d="M-9.2,12.5 L-9.2,-3 A9.2,9.2 0 0 1 9.2,-3 L9.2,11.8 L3.6,12.2 L3.4,5.4 L-2.9,5.7 L-2.9,12.5 Z" fill="#7a7878" stroke="#7a7878" stroke-width="3.4" stroke-linejoin="round" transform="rotate(4) translate(3.0,2.5) rotate(-4)"/><path d="M-9.2,12.5 L-9.2,-3 A9.2,9.2 0 0 1 9.2,-3 L9.2,11.8 L3.6,12.2 L3.4,5.4 L-2.9,5.7 L-2.9,12.5 Z" fill="#000" stroke="#fff" stroke-width="1.15" stroke-linejoin="round"/><path d="M-8.6,-1.3 L8.6,-2.6" stroke="#ccc" stroke-width="0.6" fill="none"/><path d="M0.5,-9.7 Q4.5,-9.9 6,-7.2 Q3,-8.2 0.3,-7.6 Z" fill="#fff"/></g>
<g transform="translate(640.3,307.3) rotate(36)"><path d="M-9.2,12.5 L-9.2,-3 A9.2,9.2 0 0 1 9.2,-3 L9.2,11.8 L3.6,12.2 L3.4,5.4 L-2.9,5.7 L-2.9,12.5 Z" fill="#7a7878" stroke="#7a7878" stroke-width="3.4" stroke-linejoin="round" transform="rotate(-36) translate(3.5,2.0) rotate(36)"/><path d="M-9.2,12.5 L-9.2,-3 A9.2,9.2 0 0 1 9.2,-3 L9.2,11.8 L3.6,12.2 L3.4,5.4 L-2.9,5.7 L-2.9,12.5 Z" fill="#000" stroke="#fff" stroke-width="1.15" stroke-linejoin="round"/><path d="M-8.6,-1.3 L8.6,-2.6" stroke="#ccc" stroke-width="0.6" fill="none"/><path d="M0.5,-9.7 Q4.5,-9.9 6,-7.2 Q3,-8.2 0.3,-7.6 Z" fill="#fff"/></g>
</g>
<g id="streams">
<defs><mask id="noA" maskUnits="userSpaceOnUse" x="0" y="0" width="778" height="583"><rect width="778" height="583" fill="#fff"/><path d="M236.0,112.0 C240.3,113.8 251.3,119.4 262.0,122.5 C272.7,125.6 286.3,128.4 300.0,130.5 C313.7,132.6 331.5,134.5 344.0,135.0 C356.5,135.5 367.3,134.4 375.0,133.5 C382.7,132.6 384.7,131.3 390.0,129.7 C395.3,128.1 398.4,127.7 406.8,123.8 C415.2,119.9 429.9,112.1 440.5,106.2 C451.1,100.3 464.8,92.0 470.7,88.5 C476.6,85.0 475.1,85.6 476.0,85.0 L500.0,85.0 C499.3,85.6 503.1,84.0 496.0,88.5 C488.9,93.0 466.6,106.7 457.3,112.0 C448.1,117.3 447.5,116.8 440.5,120.4 C433.5,124.1 423.6,130.5 415.2,133.9 C406.8,137.3 396.7,139.0 390.0,140.6 C383.3,142.2 382.7,142.8 375.0,143.5 C367.3,144.2 356.5,145.3 344.0,145.0 C331.5,144.7 313.7,143.7 300.0,141.5 C286.3,139.3 274.0,136.1 262.0,132.0 C250.0,127.9 233.7,119.5 228.0,117.0Z" fill="#555"/></mask><path id="st7" d="M233.0,167.0 C237.2,169.3 247.7,176.3 258.0,181.0 C268.3,185.7 282.2,191.1 295.0,195.0 C307.8,198.9 321.2,202.5 335.0,204.5 C348.8,206.5 365.5,207.4 378.0,207.0 C390.5,206.6 399.7,205.0 410.0,202.0 C420.3,199.0 430.0,194.3 440.0,189.0 C450.0,183.7 460.0,176.0 470.0,170.0 C480.0,164.0 491.3,156.9 500.0,153.0 C508.7,149.1 515.3,147.4 522.0,146.5 C528.7,145.6 534.0,146.8 540.0,147.5 C546.0,148.2 555.0,150.4 558.0,151.0"/><path id="st0" d="M232.0,135.0 C235.0,133.7 242.0,130.0 250.0,127.0 C258.0,124.0 270.8,119.3 280.0,117.0 C289.2,114.7 296.7,113.0 305.0,113.0 C313.3,113.0 322.5,115.1 330.0,117.0 C337.5,118.9 343.3,122.3 350.0,124.5 C356.7,126.7 362.5,128.8 370.0,130.0 C377.5,131.2 385.0,132.1 395.0,132.0 C405.0,131.9 419.2,130.7 430.0,129.5 C440.8,128.3 450.0,125.9 460.0,125.0 C470.0,124.1 480.8,123.3 490.0,124.0 C499.2,124.7 507.5,126.7 515.0,129.0 C522.5,131.3 529.2,135.2 535.0,138.0 C540.8,140.8 546.2,144.1 550.0,146.0 C553.8,147.9 556.7,148.9 558.0,149.5"/><path id="st6" d="M232.0,163.5 C236.7,165.4 249.2,170.8 260.0,175.0 C270.8,179.2 285.2,184.8 297.0,189.0 C308.8,193.2 319.7,197.3 331.0,200.0 C342.3,202.7 353.5,204.8 365.0,205.0 C376.5,205.2 388.8,203.5 400.0,201.0 C411.2,198.5 421.7,194.8 432.0,190.0 C442.3,185.2 452.0,178.0 462.0,172.0 C472.0,166.0 482.8,158.8 492.0,154.0 C501.2,149.2 509.3,145.0 517.0,143.5 C524.7,142.0 531.2,143.8 538.0,145.0 C544.8,146.2 554.7,149.6 558.0,150.5"/><path id="st5" d="M232.0,160.5 C237.3,161.8 253.2,165.0 264.0,168.5 C274.8,172.0 285.8,177.5 297.0,181.5 C308.2,185.5 320.5,189.8 331.0,192.5 C341.5,195.2 350.2,196.9 360.0,197.5 C369.8,198.1 380.0,197.9 390.0,196.0 C400.0,194.1 410.0,190.7 420.0,186.0 C430.0,181.3 440.0,174.0 450.0,168.0 C460.0,162.0 470.5,154.8 480.0,150.0 C489.5,145.2 498.7,141.0 507.0,139.5 C515.3,138.0 521.5,139.2 530.0,141.0 C538.5,142.8 553.3,148.5 558.0,150.0"/><path id="st4" d="M232.0,157.5 C237.3,158.4 253.2,160.5 264.0,163.0 C274.8,165.5 285.8,170.2 297.0,172.5 C308.2,174.8 320.5,176.3 331.0,177.0 C341.5,177.7 349.3,177.7 360.0,176.5 C370.7,175.3 383.3,173.4 395.0,170.0 C406.7,166.6 419.2,160.7 430.0,156.0 C440.8,151.3 450.0,145.8 460.0,142.0 C470.0,138.2 480.8,134.4 490.0,133.0 C499.2,131.6 507.0,132.0 515.0,133.5 C523.0,135.0 530.8,139.2 538.0,142.0 C545.2,144.8 554.7,148.7 558.0,150.0"/><path id="st3" d="M232.0,154.5 C238.3,155.1 257.0,156.2 270.0,158.0 C283.0,159.8 297.5,163.5 310.0,165.5 C322.5,167.5 333.3,169.9 345.0,170.0 C356.7,170.1 369.2,168.5 380.0,166.0 C390.8,163.5 400.0,159.2 410.0,155.0 C420.0,150.8 430.0,145.3 440.0,141.0 C450.0,136.7 460.5,131.8 470.0,129.0 C479.5,126.2 488.7,124.3 497.0,124.5 C505.3,124.7 512.8,127.2 520.0,130.0 C527.2,132.8 533.7,137.8 540.0,141.0 C546.3,144.2 555.0,148.1 558.0,149.5"/><path id="st2" d="M232.0,151.0 C237.3,151.4 253.2,152.2 264.0,153.5 C274.8,154.8 286.0,157.3 297.0,158.5 C308.0,159.7 319.5,159.9 330.0,160.5 C340.5,161.1 350.0,162.6 360.0,162.0 C370.0,161.4 380.0,159.7 390.0,157.0 C400.0,154.3 410.0,150.2 420.0,146.0 C430.0,141.8 440.0,135.9 450.0,132.0 C460.0,128.1 470.8,123.9 480.0,122.5 C489.2,121.1 497.5,122.2 505.0,123.5 C512.5,124.8 518.7,127.1 525.0,130.0 C531.3,132.9 537.5,137.8 543.0,141.0 C548.5,144.2 555.5,148.1 558.0,149.5"/><path id="st1" d="M232.0,147.0 C237.0,146.8 250.7,146.2 262.0,146.0 C273.3,145.8 289.5,145.7 300.0,146.0 C310.5,146.3 317.5,148.5 325.0,148.0 C332.5,147.5 338.0,146.5 345.0,143.0 C352.0,139.5 360.5,130.9 367.0,127.0 C373.5,123.0 377.0,122.0 384.0,119.3 C391.0,116.6 401.3,112.8 409.0,111.0 C416.7,109.2 423.2,108.9 430.0,108.4 C436.8,107.9 442.2,107.5 450.0,108.0 C457.8,108.5 468.0,109.8 477.0,111.5 C486.0,113.2 496.0,115.6 504.0,118.0 C512.0,120.4 518.5,122.5 525.0,126.0 C531.5,129.5 537.5,135.1 543.0,139.0 C548.5,142.9 555.5,147.8 558.0,149.5"/></defs><g mask="url(#noA)"><use href="#st7" fill="none" stroke="#7a7878" stroke-width="6.0" transform="translate(0.9,2.5)" stroke-linecap="round"/></g><text class="bin" font-size="6.8" fill="#000" stroke="#000" stroke-width="0.4" dy="2.0" letter-spacing="-0.7"><textPath href="#st7">101000100001100010000100001100100010000111111100001111100101011001111100110011111011001001001110011101111100000000101100111001111101100001001000001000</textPath></text><g mask="url(#noA)"><use href="#st0" fill="none" stroke="#7a7878" stroke-width="6.0" transform="translate(0.9,2.5)" stroke-linecap="round"/></g><text class="bin" font-size="6.8" fill="#000" stroke="#000" stroke-width="0.4" dy="2.0" letter-spacing="-0.7"><textPath href="#st0">101111001111100011100010010110101000100110011101111000010101011001010110111000000101100000010001010111001110001000001001100001001001101110101010111001</textPath></text><g mask="url(#noA)"><use href="#st6" fill="none" stroke="#7a7878" stroke-width="6.0" transform="translate(0.9,2.5)" stroke-linecap="round"/></g><text class="bin" font-size="6.8" fill="#000" stroke="#000" stroke-width="0.4" dy="2.0" letter-spacing="-0.7"><textPath href="#st6">001001010100110001111011010111011100000110010111011010010100100010101110000010001101101101000010101111001001100001100011010100110111100101001101100001</textPath></text><g mask="url(#noA)"><use href="#st5" fill="none" stroke="#7a7878" stroke-width="6.0" transform="translate(0.9,2.5)" stroke-linecap="round"/></g><text class="bin" font-size="6.8" fill="#000" stroke="#000" stroke-width="0.4" dy="2.0" letter-spacing="-0.7"><textPath href="#st5">001010110001110100100000001011000110100011010001110110000111001011001111110010101101110000011010101110001111011110101110001110110111010010011101101000</textPath></text><g mask="url(#noA)"><use href="#st4" fill="none" stroke="#7a7878" stroke-width="6.0" transform="translate(0.9,2.5)" stroke-linecap="round"/></g><text class="bin" font-size="6.8" fill="#000" stroke="#000" stroke-width="0.4" dy="2.0" letter-spacing="-0.7"><textPath href="#st4">110110001111111101110000010111100000101011001110111011100010111110001110011100000010000001011000101100011110100011000110101101011110010010100101101001</textPath></text><g mask="url(#noA)"><use href="#st3" fill="none" stroke="#7a7878" stroke-width="6.0" transform="translate(0.9,2.5)" stroke-linecap="round"/></g><text class="bin" font-size="6.8" fill="#000" stroke="#000" stroke-width="0.4" dy="2.0" letter-spacing="-0.7"><textPath href="#st3">100100001000111000100101111100001011001111001011011101010101001001111011110000011111101001001111001001001101001000111000110011111110100000101011000100</textPath></text><g mask="url(#noA)"><use href="#st2" fill="none" stroke="#7a7878" stroke-width="6.0" transform="translate(0.9,2.5)" stroke-linecap="round"/></g><text class="bin" font-size="6.8" fill="#000" stroke="#000" stroke-width="0.4" dy="2.0" letter-spacing="-0.7"><textPath href="#st2">010110100000010110010011000100011101000110101000111111011110101100101001110000010100110000110100110100010100010110000001011111011111000110110110001110</textPath></text><g mask="url(#noA)"><use href="#st1" fill="none" stroke="#7a7878" stroke-width="6.0" transform="translate(0.9,2.5)" stroke-linecap="round"/></g><text class="bin" font-size="6.8" fill="#000" stroke="#000" stroke-width="0.4" dy="2.0" letter-spacing="-0.7"><textPath href="#st1">100001001000000110001101110110101100010111010011011111101101000111100001111001000001101011001100000100011100111000000100000000101010101011101000100011</textPath></text>
</g>
<g id="brain">
<path d="M-13.50,-10.50 L-2.10,-10.50 A3.4,3.4 0 1 1 2.10,-10.50 L13.50,-10.50 L13.50,-2.10 A3.4,3.4 0 1 0 13.50,2.10 L13.50,10.50 L2.10,10.50 A3.4,3.4 0 1 1 -2.10,10.50 L-13.50,10.50 L-13.50,2.10 A3.4,3.4 0 1 0 -13.50,-2.10 L-13.50,-10.50Z" fill="#7a7878" stroke="#7a7878" stroke-width="1.0" stroke-linejoin="round" transform="translate(544.08,366.07) rotate(-8)"/><path d="M-13.50,-10.50 L-2.10,-10.50 A3.4,3.4 0 1 1 2.10,-10.50 L13.50,-10.50 L13.50,-2.10 A3.4,3.4 0 1 0 13.50,2.10 L13.50,10.50 L2.10,10.50 A3.4,3.4 0 1 1 -2.10,10.50 L-13.50,10.50 L-13.50,2.10 A3.4,3.4 0 1 0 -13.50,-2.10 L-13.50,-10.50Z" fill="#7a7878" stroke="#7a7878" stroke-width="1.0" stroke-linejoin="round" transform="translate(544.95,366.95) rotate(-8)"/><path d="M-13.50,-10.50 L-2.10,-10.50 A3.4,3.4 0 1 1 2.10,-10.50 L13.50,-10.50 L13.50,-2.10 A3.4,3.4 0 1 0 13.50,2.10 L13.50,10.50 L2.10,10.50 A3.4,3.4 0 1 1 -2.10,10.50 L-13.50,10.50 L-13.50,2.10 A3.4,3.4 0 1 0 -13.50,-2.10 L-13.50,-10.50Z" fill="#7a7878" stroke="#7a7878" stroke-width="1.0" stroke-linejoin="round" transform="translate(545.83,367.82) rotate(-8)"/><path d="M-13.50,-10.50 L-2.10,-10.50 A3.4,3.4 0 1 1 2.10,-10.50 L13.50,-10.50 L13.50,-2.10 A3.4,3.4 0 1 0 13.50,2.10 L13.50,10.50 L2.10,10.50 A3.4,3.4 0 1 1 -2.10,10.50 L-13.50,10.50 L-13.50,2.10 A3.4,3.4 0 1 0 -13.50,-2.10 L-13.50,-10.50Z" fill="#7a7878" stroke="#7a7878" stroke-width="1.0" stroke-linejoin="round" transform="translate(546.70,368.70) rotate(-8)"/><path d="M-13.50,-10.50 L-2.10,-10.50 A3.4,3.4 0 1 1 2.10,-10.50 L13.50,-10.50 L13.50,-2.10 A3.4,3.4 0 1 0 13.50,2.10 L13.50,10.50 L2.10,10.50 A3.4,3.4 0 1 1 -2.10,10.50 L-13.50,10.50 L-13.50,2.10 A3.4,3.4 0 1 0 -13.50,-2.10 L-13.50,-10.50Z" fill="#000" stroke="#7a7878" stroke-width="1.0" stroke-linejoin="round" transform="translate(543.2,365.2) rotate(-8)"/>
<path d="M-15.50,-9.50 L-2.10,-9.50 A3.4,3.4 0 1 1 2.10,-9.50 L15.50,-9.50 L15.50,-2.10 A3.4,3.4 0 1 0 15.50,2.10 L15.50,9.50 L-15.50,9.50 L-15.50,2.10 A3.4,3.4 0 1 0 -15.50,-2.10 L-15.50,-9.50Z" fill="#7a7878" stroke="#7a7878" stroke-width="1.0" stroke-linejoin="round" transform="translate(490.95,404.23) rotate(-5)"/><path d="M-15.50,-9.50 L-2.10,-9.50 A3.4,3.4 0 1 1 2.10,-9.50 L15.50,-9.50 L15.50,-2.10 A3.4,3.4 0 1 0 15.50,2.10 L15.50,9.50 L-15.50,9.50 L-15.50,2.10 A3.4,3.4 0 1 0 -15.50,-2.10 L-15.50,-9.50Z" fill="#7a7878" stroke="#7a7878" stroke-width="1.0" stroke-linejoin="round" transform="translate(491.70,405.35) rotate(-5)"/><path d="M-15.50,-9.50 L-2.10,-9.50 A3.4,3.4 0 1 1 2.10,-9.50 L15.50,-9.50 L15.50,-2.10 A3.4,3.4 0 1 0 15.50,2.10 L15.50,9.50 L-15.50,9.50 L-15.50,2.10 A3.4,3.4 0 1 0 -15.50,-2.10 L-15.50,-9.50Z" fill="#7a7878" stroke="#7a7878" stroke-width="1.0" stroke-linejoin="round" transform="translate(492.45,406.48) rotate(-5)"/><path d="M-15.50,-9.50 L-2.10,-9.50 A3.4,3.4 0 1 1 2.10,-9.50 L15.50,-9.50 L15.50,-2.10 A3.4,3.4 0 1 0 15.50,2.10 L15.50,9.50 L-15.50,9.50 L-15.50,2.10 A3.4,3.4 0 1 0 -15.50,-2.10 L-15.50,-9.50Z" fill="#7a7878" stroke="#7a7878" stroke-width="1.0" stroke-linejoin="round" transform="translate(493.20,407.60) rotate(-5)"/><path d="M-15.50,-9.50 L-2.10,-9.50 A3.4,3.4 0 1 1 2.10,-9.50 L15.50,-9.50 L15.50,-2.10 A3.4,3.4 0 1 0 15.50,2.10 L15.50,9.50 L-15.50,9.50 L-15.50,2.10 A3.4,3.4 0 1 0 -15.50,-2.10 L-15.50,-9.50Z" fill="#000" stroke="#7a7878" stroke-width="1.0" stroke-linejoin="round" transform="translate(490.2,403.1) rotate(-5)"/>
<path d="M486.8,492.4 C486.2,487.6 487.1,483.8 488.5,479.0 C489.9,474.2 492.7,468.0 495.2,463.8 C497.7,459.6 500.8,458.0 503.6,453.8 C506.4,449.6 508.4,443.4 512.0,438.6 C515.6,433.8 519.9,428.4 525.5,425.2 C531.1,422.0 539.2,420.7 545.7,419.3 C552.2,417.9 558.6,416.7 564.2,416.8 C569.8,416.9 573.2,418.7 579.3,420.1 C585.4,421.6 594.2,423.9 600.6,425.5 C607.0,427.1 611.9,427.6 617.5,430.0 C623.1,432.4 630.3,435.3 634.3,440.1 C638.3,444.9 639.6,453.4 641.5,458.7 C643.4,464.0 645.7,466.5 645.6,472.1 C645.5,477.7 642.9,486.7 641.0,492.3 C639.1,497.9 637.7,502.3 634.3,505.7 C630.9,509.1 625.8,510.2 620.8,512.5 C615.8,514.8 607.9,517.0 604.0,519.2 C600.1,521.5 600.5,524.3 597.3,526.0 C594.1,527.7 589.5,529.0 585.0,529.5 C580.5,530.0 574.8,529.5 570.0,529.0 C565.2,528.5 561.0,526.8 556.0,526.5 C551.0,526.2 544.8,527.9 540.0,527.5 C535.2,527.1 531.2,525.9 527.0,524.0 C522.8,522.1 519.0,518.0 515.0,516.0 C511.0,514.0 506.8,513.3 503.0,512.0 C499.2,510.7 494.7,511.3 492.0,508.0 C489.3,504.7 487.4,497.2 486.8,492.4Z" fill="#7a7878" transform="translate(0.90,0.72)"/>
<path d="M486.8,492.4 C486.2,487.6 487.1,483.8 488.5,479.0 C489.9,474.2 492.7,468.0 495.2,463.8 C497.7,459.6 500.8,458.0 503.6,453.8 C506.4,449.6 508.4,443.4 512.0,438.6 C515.6,433.8 519.9,428.4 525.5,425.2 C531.1,422.0 539.2,420.7 545.7,419.3 C552.2,417.9 558.6,416.7 564.2,416.8 C569.8,416.9 573.2,418.7 579.3,420.1 C585.4,421.6 594.2,423.9 600.6,425.5 C607.0,427.1 611.9,427.6 617.5,430.0 C623.1,432.4 630.3,435.3 634.3,440.1 C638.3,444.9 639.6,453.4 641.5,458.7 C643.4,464.0 645.7,466.5 645.6,472.1 C645.5,477.7 642.9,486.7 641.0,492.3 C639.1,497.9 637.7,502.3 634.3,505.7 C630.9,509.1 625.8,510.2 620.8,512.5 C615.8,514.8 607.9,517.0 604.0,519.2 C600.1,521.5 600.5,524.3 597.3,526.0 C594.1,527.7 589.5,529.0 585.0,529.5 C580.5,530.0 574.8,529.5 570.0,529.0 C565.2,528.5 561.0,526.8 556.0,526.5 C551.0,526.2 544.8,527.9 540.0,527.5 C535.2,527.1 531.2,525.9 527.0,524.0 C522.8,522.1 519.0,518.0 515.0,516.0 C511.0,514.0 506.8,513.3 503.0,512.0 C499.2,510.7 494.7,511.3 492.0,508.0 C489.3,504.7 487.4,497.2 486.8,492.4Z" fill="#7a7878" transform="translate(1.80,1.44)"/>
<path d="M486.8,492.4 C486.2,487.6 487.1,483.8 488.5,479.0 C489.9,474.2 492.7,468.0 495.2,463.8 C497.7,459.6 500.8,458.0 503.6,453.8 C506.4,449.6 508.4,443.4 512.0,438.6 C515.6,433.8 519.9,428.4 525.5,425.2 C531.1,422.0 539.2,420.7 545.7,419.3 C552.2,417.9 558.6,416.7 564.2,416.8 C569.8,416.9 573.2,418.7 579.3,420.1 C585.4,421.6 594.2,423.9 600.6,425.5 C607.0,427.1 611.9,427.6 617.5,430.0 C623.1,432.4 630.3,435.3 634.3,440.1 C638.3,444.9 639.6,453.4 641.5,458.7 C643.4,464.0 645.7,466.5 645.6,472.1 C645.5,477.7 642.9,486.7 641.0,492.3 C639.1,497.9 637.7,502.3 634.3,505.7 C630.9,509.1 625.8,510.2 620.8,512.5 C615.8,514.8 607.9,517.0 604.0,519.2 C600.1,521.5 600.5,524.3 597.3,526.0 C594.1,527.7 589.5,529.0 585.0,529.5 C580.5,530.0 574.8,529.5 570.0,529.0 C565.2,528.5 561.0,526.8 556.0,526.5 C551.0,526.2 544.8,527.9 540.0,527.5 C535.2,527.1 531.2,525.9 527.0,524.0 C522.8,522.1 519.0,518.0 515.0,516.0 C511.0,514.0 506.8,513.3 503.0,512.0 C499.2,510.7 494.7,511.3 492.0,508.0 C489.3,504.7 487.4,497.2 486.8,492.4Z" fill="#7a7878" transform="translate(2.70,2.16)"/>
<path d="M486.8,492.4 C486.2,487.6 487.1,483.8 488.5,479.0 C489.9,474.2 492.7,468.0 495.2,463.8 C497.7,459.6 500.8,458.0 503.6,453.8 C506.4,449.6 508.4,443.4 512.0,438.6 C515.6,433.8 519.9,428.4 525.5,425.2 C531.1,422.0 539.2,420.7 545.7,419.3 C552.2,417.9 558.6,416.7 564.2,416.8 C569.8,416.9 573.2,418.7 579.3,420.1 C585.4,421.6 594.2,423.9 600.6,425.5 C607.0,427.1 611.9,427.6 617.5,430.0 C623.1,432.4 630.3,435.3 634.3,440.1 C638.3,444.9 639.6,453.4 641.5,458.7 C643.4,464.0 645.7,466.5 645.6,472.1 C645.5,477.7 642.9,486.7 641.0,492.3 C639.1,497.9 637.7,502.3 634.3,505.7 C630.9,509.1 625.8,510.2 620.8,512.5 C615.8,514.8 607.9,517.0 604.0,519.2 C600.1,521.5 600.5,524.3 597.3,526.0 C594.1,527.7 589.5,529.0 585.0,529.5 C580.5,530.0 574.8,529.5 570.0,529.0 C565.2,528.5 561.0,526.8 556.0,526.5 C551.0,526.2 544.8,527.9 540.0,527.5 C535.2,527.1 531.2,525.9 527.0,524.0 C522.8,522.1 519.0,518.0 515.0,516.0 C511.0,514.0 506.8,513.3 503.0,512.0 C499.2,510.7 494.7,511.3 492.0,508.0 C489.3,504.7 487.4,497.2 486.8,492.4Z" fill="#7a7878" transform="translate(3.60,2.88)"/>
<path d="M486.8,492.4 C486.2,487.6 487.1,483.8 488.5,479.0 C489.9,474.2 492.7,468.0 495.2,463.8 C497.7,459.6 500.8,458.0 503.6,453.8 C506.4,449.6 508.4,443.4 512.0,438.6 C515.6,433.8 519.9,428.4 525.5,425.2 C531.1,422.0 539.2,420.7 545.7,419.3 C552.2,417.9 558.6,416.7 564.2,416.8 C569.8,416.9 573.2,418.7 579.3,420.1 C585.4,421.6 594.2,423.9 600.6,425.5 C607.0,427.1 611.9,427.6 617.5,430.0 C623.1,432.4 630.3,435.3 634.3,440.1 C638.3,444.9 639.6,453.4 641.5,458.7 C643.4,464.0 645.7,466.5 645.6,472.1 C645.5,477.7 642.9,486.7 641.0,492.3 C639.1,497.9 637.7,502.3 634.3,505.7 C630.9,509.1 625.8,510.2 620.8,512.5 C615.8,514.8 607.9,517.0 604.0,519.2 C600.1,521.5 600.5,524.3 597.3,526.0 C594.1,527.7 589.5,529.0 585.0,529.5 C580.5,530.0 574.8,529.5 570.0,529.0 C565.2,528.5 561.0,526.8 556.0,526.5 C551.0,526.2 544.8,527.9 540.0,527.5 C535.2,527.1 531.2,525.9 527.0,524.0 C522.8,522.1 519.0,518.0 515.0,516.0 C511.0,514.0 506.8,513.3 503.0,512.0 C499.2,510.7 494.7,511.3 492.0,508.0 C489.3,504.7 487.4,497.2 486.8,492.4Z" fill="#7a7878" transform="translate(4.50,3.60)"/>
<path d="M486.8,492.4 C486.2,487.6 487.1,483.8 488.5,479.0 C489.9,474.2 492.7,468.0 495.2,463.8 C497.7,459.6 500.8,458.0 503.6,453.8 C506.4,449.6 508.4,443.4 512.0,438.6 C515.6,433.8 519.9,428.4 525.5,425.2 C531.1,422.0 539.2,420.7 545.7,419.3 C552.2,417.9 558.6,416.7 564.2,416.8 C569.8,416.9 573.2,418.7 579.3,420.1 C585.4,421.6 594.2,423.9 600.6,425.5 C607.0,427.1 611.9,427.6 617.5,430.0 C623.1,432.4 630.3,435.3 634.3,440.1 C638.3,444.9 639.6,453.4 641.5,458.7 C643.4,464.0 645.7,466.5 645.6,472.1 C645.5,477.7 642.9,486.7 641.0,492.3 C639.1,497.9 637.7,502.3 634.3,505.7 C630.9,509.1 625.8,510.2 620.8,512.5 C615.8,514.8 607.9,517.0 604.0,519.2 C600.1,521.5 600.5,524.3 597.3,526.0 C594.1,527.7 589.5,529.0 585.0,529.5 C580.5,530.0 574.8,529.5 570.0,529.0 C565.2,528.5 561.0,526.8 556.0,526.5 C551.0,526.2 544.8,527.9 540.0,527.5 C535.2,527.1 531.2,525.9 527.0,524.0 C522.8,522.1 519.0,518.0 515.0,516.0 C511.0,514.0 506.8,513.3 503.0,512.0 C499.2,510.7 494.7,511.3 492.0,508.0 C489.3,504.7 487.4,497.2 486.8,492.4Z" fill="#000" stroke="#7a7878" stroke-width="1"/>
<path d="M581.8,423.5 C578.9,425.3 569.4,431.2 564.2,434.4 C559.0,437.6 554.6,440.6 550.7,442.8 C546.8,445.1 543.1,445.8 540.6,447.9 C538.1,450.0 538.1,452.8 535.6,455.4 C533.1,458.0 528.2,460.7 525.5,463.8 C522.8,466.9 520.9,470.5 519.6,473.9 C518.3,477.3 517.9,480.4 517.9,484.0 C517.9,487.6 519.5,492.6 519.6,495.8 C519.8,499.0 518.6,500.1 518.8,503.0 C518.9,505.9 519.3,510.0 520.5,513.0 C521.7,516.0 523.4,518.8 526.0,521.0 C528.6,523.2 534.3,525.6 536.0,526.5" fill="none" stroke="#fff" stroke-width="1.1"/>
<path d="M-13.75,-12.25 L-1.90,-12.25 A3.2,3.2 0 1 0 1.90,-12.25 L13.75,-12.25 L13.75,-1.90 A3.2,3.2 0 1 1 13.75,1.90 L13.75,12.25 L1.90,12.25 A3.2,3.2 0 1 0 -1.90,12.25 L-13.75,12.25 L-13.75,1.90 A3.2,3.2 0 1 1 -13.75,-1.90 L-13.75,-12.25Z" fill="#fff" transform="translate(578.4,450.2) rotate(-3)"/>
<path d="M-13.25,-8.25 L-1.90,-8.25 A3.2,3.2 0 1 1 1.90,-8.25 L13.25,-8.25 L13.25,-1.90 A3.2,3.2 0 1 0 13.25,1.90 L13.25,8.25 L1.90,8.25 A3.2,3.2 0 1 1 -1.90,8.25 L-13.25,8.25 L-13.25,1.90 A3.2,3.2 0 1 0 -13.25,-1.90 L-13.25,-8.25Z" fill="#fff" transform="translate(552.7,494.8) rotate(1)"/>
<path d="M-13.00,-9.00 L-1.90,-9.00 A3.2,3.2 0 1 1 1.90,-9.00 L13.00,-9.00 L13.00,-1.90 A3.2,3.2 0 1 0 13.00,1.90 L13.00,9.00 L1.90,9.00 A3.2,3.2 0 1 1 -1.90,9.00 L-13.00,9.00 L-13.00,1.90 A3.2,3.2 0 1 0 -13.00,-1.90 L-13.00,-9.00Z" fill="#fff" transform="translate(606.5,488.9) rotate(-11)"/>
<path d="M-13.25,-7.75 L-1.80,-7.75 A3.0,3.0 0 1 0 1.80,-7.75 L13.25,-7.75 L13.25,-1.80 A3.0,3.0 0 1 1 13.25,1.80 L13.25,7.75 L1.80,7.75 A3.0,3.0 0 1 0 -1.80,7.75 L-13.25,7.75 L-13.25,-7.75Z" fill="#fff" transform="translate(499.2,505.6) rotate(11)"/>
<clipPath id="cpw5"><rect x="515" y="505" width="80" height="21.4"/></clipPath>
<g clip-path="url(#cpw5)">
<path d="M-13.50,-8.50 L-1.90,-8.50 A3.2,3.2 0 1 1 1.90,-8.50 L13.50,-8.50 L13.50,-1.90 A3.2,3.2 0 1 0 13.50,1.90 L13.50,8.50 L-13.50,8.50 L-13.50,-8.50Z" fill="#fff" transform="translate(551.5,528.5) rotate(0)"/>
</g>
<polygon points="520.0,532.6 537.2,526.4 541.0,524.5 557.5,525.5 556.0,529.0 546.5,532.6" fill="#fff" />
<path d="M-15.50,-12.50 L-2.20,-12.50 A3.5,3.5 0 1 0 2.20,-12.50 L15.50,-12.50 L15.50,-2.20 A3.5,3.5 0 1 1 15.50,2.20 L15.50,12.50 L2.20,12.50 A3.5,3.5 0 1 0 -2.20,12.50 L-15.50,12.50 L-15.50,-12.50Z" fill="#7a7878" stroke="#7a7878" stroke-width="1.0" stroke-linejoin="round" transform="translate(535.67,403.20) rotate(20)"/><path d="M-15.50,-12.50 L-2.20,-12.50 A3.5,3.5 0 1 0 2.20,-12.50 L15.50,-12.50 L15.50,-2.20 A3.5,3.5 0 1 1 15.50,2.20 L15.50,12.50 L2.20,12.50 A3.5,3.5 0 1 0 -2.20,12.50 L-15.50,12.50 L-15.50,-12.50Z" fill="#7a7878" stroke="#7a7878" stroke-width="1.0" stroke-linejoin="round" transform="translate(536.55,404.20) rotate(20)"/><path d="M-15.50,-12.50 L-2.20,-12.50 A3.5,3.5 0 1 0 2.20,-12.50 L15.50,-12.50 L15.50,-2.20 A3.5,3.5 0 1 1 15.50,2.20 L15.50,12.50 L2.20,12.50 A3.5,3.5 0 1 0 -2.20,12.50 L-15.50,12.50 L-15.50,-12.50Z" fill="#7a7878" stroke="#7a7878" stroke-width="1.0" stroke-linejoin="round" transform="translate(537.42,405.20) rotate(20)"/><path d="M-15.50,-12.50 L-2.20,-12.50 A3.5,3.5 0 1 0 2.20,-12.50 L15.50,-12.50 L15.50,-2.20 A3.5,3.5 0 1 1 15.50,2.20 L15.50,12.50 L2.20,12.50 A3.5,3.5 0 1 0 -2.20,12.50 L-15.50,12.50 L-15.50,-12.50Z" fill="#7a7878" stroke="#7a7878" stroke-width="1.0" stroke-linejoin="round" transform="translate(538.30,406.20) rotate(20)"/><path d="M-15.50,-12.50 L-2.20,-12.50 A3.5,3.5 0 1 0 2.20,-12.50 L15.50,-12.50 L15.50,-2.20 A3.5,3.5 0 1 1 15.50,2.20 L15.50,12.50 L2.20,12.50 A3.5,3.5 0 1 0 -2.20,12.50 L-15.50,12.50 L-15.50,-12.50Z" fill="#000" stroke="#7a7878" stroke-width="1.0" stroke-linejoin="round" transform="translate(534.8,402.2) rotate(20)"/>
<path d="M-17.00,-11.00 L-2.10,-11.00 A3.4,3.4 0 1 1 2.10,-11.00 L17.00,-11.00 L17.00,-2.10 A3.4,3.4 0 1 0 17.00,2.10 L17.00,11.00 L2.10,11.00 A3.4,3.4 0 1 1 -2.10,11.00 L-17.00,11.00 L-17.00,-11.00Z" fill="#7a7878" stroke="#7a7878" stroke-width="1.0" stroke-linejoin="round" transform="translate(491.43,444.12) rotate(-22)"/><path d="M-17.00,-11.00 L-2.10,-11.00 A3.4,3.4 0 1 1 2.10,-11.00 L17.00,-11.00 L17.00,-2.10 A3.4,3.4 0 1 0 17.00,2.10 L17.00,11.00 L2.10,11.00 A3.4,3.4 0 1 1 -2.10,11.00 L-17.00,11.00 L-17.00,-11.00Z" fill="#7a7878" stroke="#7a7878" stroke-width="1.0" stroke-linejoin="round" transform="translate(492.05,445.25) rotate(-22)"/><path d="M-17.00,-11.00 L-2.10,-11.00 A3.4,3.4 0 1 1 2.10,-11.00 L17.00,-11.00 L17.00,-2.10 A3.4,3.4 0 1 0 17.00,2.10 L17.00,11.00 L2.10,11.00 A3.4,3.4 0 1 1 -2.10,11.00 L-17.00,11.00 L-17.00,-11.00Z" fill="#7a7878" stroke="#7a7878" stroke-width="1.0" stroke-linejoin="round" transform="translate(492.68,446.38) rotate(-22)"/><path d="M-17.00,-11.00 L-2.10,-11.00 A3.4,3.4 0 1 1 2.10,-11.00 L17.00,-11.00 L17.00,-2.10 A3.4,3.4 0 1 0 17.00,2.10 L17.00,11.00 L2.10,11.00 A3.4,3.4 0 1 1 -2.10,11.00 L-17.00,11.00 L-17.00,-11.00Z" fill="#7a7878" stroke="#7a7878" stroke-width="1.0" stroke-linejoin="round" transform="translate(493.30,447.50) rotate(-22)"/><path d="M-17.00,-11.00 L-2.10,-11.00 A3.4,3.4 0 1 1 2.10,-11.00 L17.00,-11.00 L17.00,-2.10 A3.4,3.4 0 1 0 17.00,2.10 L17.00,11.00 L2.10,11.00 A3.4,3.4 0 1 1 -2.10,11.00 L-17.00,11.00 L-17.00,-11.00Z" fill="#000" stroke="#7a7878" stroke-width="1.0" stroke-linejoin="round" transform="translate(490.8,443) rotate(-22)"/>
<path d="M-13.50,-11.00 L-2.10,-11.00 A3.4,3.4 0 1 1 2.10,-11.00 L13.50,-11.00 L13.50,-2.10 A3.4,3.4 0 1 0 13.50,2.10 L13.50,11.00 L2.10,11.00 A3.4,3.4 0 1 1 -2.10,11.00 L-13.50,11.00 L-13.50,2.10 A3.4,3.4 0 1 0 -13.50,-2.10 L-13.50,-11.00Z" fill="#7a7878" stroke="#7a7878" stroke-width="1.0" stroke-linejoin="round" transform="translate(663.38,435.62) rotate(12)"/><path d="M-13.50,-11.00 L-2.10,-11.00 A3.4,3.4 0 1 1 2.10,-11.00 L13.50,-11.00 L13.50,-2.10 A3.4,3.4 0 1 0 13.50,2.10 L13.50,11.00 L2.10,11.00 A3.4,3.4 0 1 1 -2.10,11.00 L-13.50,11.00 L-13.50,2.10 A3.4,3.4 0 1 0 -13.50,-2.10 L-13.50,-11.00Z" fill="#7a7878" stroke="#7a7878" stroke-width="1.0" stroke-linejoin="round" transform="translate(664.25,436.75) rotate(12)"/><path d="M-13.50,-11.00 L-2.10,-11.00 A3.4,3.4 0 1 1 2.10,-11.00 L13.50,-11.00 L13.50,-2.10 A3.4,3.4 0 1 0 13.50,2.10 L13.50,11.00 L2.10,11.00 A3.4,3.4 0 1 1 -2.10,11.00 L-13.50,11.00 L-13.50,2.10 A3.4,3.4 0 1 0 -13.50,-2.10 L-13.50,-11.00Z" fill="#7a7878" stroke="#7a7878" stroke-width="1.0" stroke-linejoin="round" transform="translate(665.12,437.88) rotate(12)"/><path d="M-13.50,-11.00 L-2.10,-11.00 A3.4,3.4 0 1 1 2.10,-11.00 L13.50,-11.00 L13.50,-2.10 A3.4,3.4 0 1 0 13.50,2.10 L13.50,11.00 L2.10,11.00 A3.4,3.4 0 1 1 -2.10,11.00 L-13.50,11.00 L-13.50,2.10 A3.4,3.4 0 1 0 -13.50,-2.10 L-13.50,-11.00Z" fill="#7a7878" stroke="#7a7878" stroke-width="1.0" stroke-linejoin="round" transform="translate(666.00,439.00) rotate(12)"/><path d="M-13.50,-11.00 L-2.10,-11.00 A3.4,3.4 0 1 1 2.10,-11.00 L13.50,-11.00 L13.50,-2.10 A3.4,3.4 0 1 0 13.50,2.10 L13.50,11.00 L2.10,11.00 A3.4,3.4 0 1 1 -2.10,11.00 L-13.50,11.00 L-13.50,2.10 A3.4,3.4 0 1 0 -13.50,-2.10 L-13.50,-11.00Z" fill="#000" stroke="#7a7878" stroke-width="1.0" stroke-linejoin="round" transform="translate(662.5,434.5) rotate(12)"/>
</g>
<g id="person2">
<defs><radialGradient id="brg" cx="0.47" cy="0.52" r="0.6"><stop offset="0" stop-color="#d5352a"/><stop offset="0.35" stop-color="#dc3b28"/><stop offset="0.75" stop-color="#ee5a28"/><stop offset="1" stop-color="#f26a2a"/></radialGradient></defs>
<g fill="#7a7878" transform="translate(1.04,0.28)"><circle cx="331.3" cy="456" r="27.6"/><path d="M294.9,560 L294.9,499 Q295.5,485 312,484 L350,484 Q366.6,485 367.2,499 L367.2,560 Z"/></g>
<g fill="#7a7878" transform="translate(2.08,0.56)"><circle cx="331.3" cy="456" r="27.6"/><path d="M294.9,560 L294.9,499 Q295.5,485 312,484 L350,484 Q366.6,485 367.2,499 L367.2,560 Z"/></g>
<g fill="#7a7878" transform="translate(3.12,0.84)"><circle cx="331.3" cy="456" r="27.6"/><path d="M294.9,560 L294.9,499 Q295.5,485 312,484 L350,484 Q366.6,485 367.2,499 L367.2,560 Z"/></g>
<g fill="#7a7878" transform="translate(4.16,1.12)"><circle cx="331.3" cy="456" r="27.6"/><path d="M294.9,560 L294.9,499 Q295.5,485 312,484 L350,484 Q366.6,485 367.2,499 L367.2,560 Z"/></g>
<g fill="#7a7878" transform="translate(5.20,1.40)"><circle cx="331.3" cy="456" r="27.6"/><path d="M294.9,560 L294.9,499 Q295.5,485 312,484 L350,484 Q366.6,485 367.2,499 L367.2,560 Z"/></g>
<path d="M294.9,560 L294.9,499 Q295.5,485 312,484 L350,484 Q366.6,485 367.2,499 L367.2,560 Z" fill="#000" stroke="#7a7878" stroke-width="1.2"/>
<circle cx="331.3" cy="456" r="27.3" fill="#000" stroke="#7a7878" stroke-width="1.8"/>
<rect x="323" y="474" width="17" height="14" fill="#000"/>
<path d="M310.7,502.8 L308.7,556 M352.4,502.8 L354.6,556" stroke="#7a7878" stroke-width="1.6" fill="none" stroke-linecap="round"/>
<path d="M313,455 C313,443 321,436.2 331.8,436.2 C343,436.2 350.6,443.5 350.6,455 C350.6,461 348,463.5 343,464 C336,465 326,465 320,464 C315,463.2 313,460.5 313,455 Z" fill="url(#brg)"/>
</g>
<g id="icons">
<circle cx="287.30" cy="33.17" r="12" fill="#7a7878"/>
<circle cx="288.50" cy="34.03" r="12" fill="#7a7878"/>
<circle cx="289.70" cy="34.90" r="12" fill="#7a7878"/>
<rect x="284" y="17" width="6" height="5" fill="#7a7878" transform="translate(3,1.5)"/>
<rect x="284" y="17" width="4.4" height="4" fill="#000"/>
<circle cx="286.1" cy="32.3" r="11.8" fill="#000"/>
<circle cx="286.1" cy="32.3" r="9.3" fill="#fff"/>
<path d="M286.3,32.8 L281.2,25.5" stroke="#000" stroke-width="1.1" stroke-linecap="round"/>
<circle cx="286.3" cy="32.8" r="1.2" fill="#000"/>
<polygon points="322,16.5 341.5,31.5 324.5,48 307.5,32" fill="#7a7878"/>
<circle cx="325" cy="32" r="11.5" fill="#7a7878"/>
<circle cx="322" cy="30.2" r="11.3" fill="#000"/>
<circle cx="322" cy="30.2" r="9.3" fill="#fff"/>
<circle cx="322" cy="30.2" r="4.2" fill="#000"/>
<path d="M308.8,30.2 L336,30.2 M322,17.9 L322,45.7" stroke="#000" stroke-width="1.1"/>
<path d="M318,30.2 L326,30.2 M322,26.2 L322,34.2" stroke="#fff" stroke-width="1.0"/>
<path d="M420.8,31.8 C427,19.5 448,17.5 457.6,31.5 C449,46.5 428,46 420.8,31.8 Z" fill="#7a7878" stroke="#7a7878" stroke-width="2.5" transform="translate(1.5,1.6)"/>
<path d="M420.8,31.8 C427,19.5 448,17.5 457.6,31.5 C449,46.5 428,46 420.8,31.8 Z" fill="#000" stroke="#7a7878" stroke-width="1.3"/>
<circle cx="437.6" cy="30.1" r="8.4" fill="#fff"/>
<circle cx="437.6" cy="30.1" r="4.6" fill="#000"/>
<path d="M434.6,31.5 A3.4,3.4 0 0 0 438.6,33.6" stroke="#fff" stroke-width="0.6" fill="none"/>
<path d="M466,30.5 L471.5,29.5 L473.5,26 L475,35 L477,20 L479.3,45.5 L481.5,18.8 L483.5,41 L485.5,27 L487.5,31 L494.4,30 L488,34.5 L484.5,44 L481,36 L479.3,46 L477,36 L474.5,39 L472,33.5 Z" fill="#7a7878" stroke="#7a7878" stroke-width="2.6" stroke-linejoin="round" transform="translate(0.8,1)"/>
<path d="M466.5,30.5 L472,29.8 L473.6,26.5 L475.2,34.5 L477.2,20.5 L479.4,44.5 L481.6,19.5 L483.6,40 L485.6,27.5 L487.4,30.8 L493.5,30.2" fill="none" stroke="#000" stroke-width="1.5" stroke-linejoin="round"/>
<path d="M503,36 C503,31 507,26 512,22 L517.5,17.2 C520,16 521.5,18 520.5,20 L518,25.5 L533,25.5 C537,25.5 537.5,30 534,30.5 C537.8,31 537.8,35.5 534,36 C537.5,36.5 537.5,41 533.5,41.5 C536.5,42.5 535.5,46.8 532,46.8 L512,46.8 C506,46.8 503,42 503,36 Z" fill="#7a7878" stroke="#7a7878" stroke-width="1.6" transform="translate(1.6,1.6)"/>
<path d="M503,36 C503,31 507,26 512,22 L517.5,17.2 C520,16 521.5,18 520.5,20 L518,25.5 L533,25.5 C537,25.5 537.5,30 534,30.5 C537.8,31 537.8,35.5 534,36 C537.5,36.5 537.5,41 533.5,41.5 C536.5,42.5 535.5,46.8 532,46.8 L512,46.8 C506,46.8 503,42 503,36 Z" fill="#000" stroke="#7a7878" stroke-width="0.9"/>
<path d="M521,30.5 L532,30.5 M521,36 L532,36 M521,41.5 L532,41.5" stroke="#1a1a1a" stroke-width="1.4"/>
</g>
<rect x="128.90" y="93.63" width="113.6" height="26.799999999999997" rx="13.399999999999999" fill="#7a7878"/><rect x="130.30" y="94.77" width="113.6" height="26.799999999999997" rx="13.399999999999999" fill="#7a7878"/><rect x="131.70" y="95.90" width="113.6" height="26.799999999999997" rx="13.399999999999999" fill="#7a7878"/><rect x="127.5" y="92.5" width="113.6" height="26.799999999999997" rx="13.399999999999999" fill="#fff"/><rect x="129.3" y="94.3" width="110.0" height="23.199999999999996" rx="11.599999999999998" fill="#ee3b30"/><text class="lbl" x="136.7" y="109.9" textLength="92.70000000000002" lengthAdjust="spacingAndGlyphs" stroke="#fff" stroke-width="0.35">You take the test</text>
<rect x="268.40" y="61.93" width="271.4" height="27.60000000000001" rx="13.800000000000004" fill="#7a7878"/><rect x="269.80" y="63.07" width="271.4" height="27.60000000000001" rx="13.800000000000004" fill="#7a7878"/><rect x="271.20" y="64.20" width="271.4" height="27.60000000000001" rx="13.800000000000004" fill="#7a7878"/><rect x="267" y="60.8" width="271.4" height="27.60000000000001" rx="13.800000000000004" fill="#fff"/><rect x="268.8" y="62.599999999999994" width="267.79999999999995" height="24.000000000000007" rx="12.000000000000004" fill="#ee3b30"/><text class="lbl" x="279" y="78.6" textLength="249" lengthAdjust="spacingAndGlyphs" stroke="#fff" stroke-width="0.35">We measure performance + biometric signals</text>
<rect x="638.40" y="165.53" width="133.70000000000005" height="27.0" rx="13.5" fill="#7a7878"/><rect x="639.80" y="166.67" width="133.70000000000005" height="27.0" rx="13.5" fill="#7a7878"/><rect x="641.20" y="167.80" width="133.70000000000005" height="27.0" rx="13.5" fill="#7a7878"/><rect x="637" y="164.4" width="133.70000000000005" height="27.0" rx="13.5" fill="#fff"/><rect x="638.8" y="166.20000000000002" width="130.10000000000005" height="23.4" rx="11.7" fill="#ee3b30"/><text class="lbl" x="648.8" y="181.9" textLength="111.80000000000007" lengthAdjust="spacingAndGlyphs" stroke="#fff" stroke-width="0.35">We process the data</text>
<rect x="572" y="388.3" width="125" height="26.30000000000001" rx="13.150000000000006" fill="#fff"/><rect x="573.8" y="390.1" width="121.4" height="22.70000000000001" rx="11.350000000000005" fill="#ee3b30"/><text class="lbl" x="587.2" y="405.5" textLength="93.69999999999993" lengthAdjust="spacingAndGlyphs" stroke="#fff" stroke-width="0.35">We find patterns</text>
<rect x="15.5" y="555.8" width="192.5" height="26.40000000000009" rx="13.200000000000045" fill="#fff"/><rect x="17.3" y="557.5999999999999" width="188.9" height="22.80000000000009" rx="11.400000000000045" fill="#ee3b30"/><text class="lbl" x="24.9" y="573.0" textLength="174.5" lengthAdjust="spacingAndGlyphs" stroke="#fff" stroke-width="0.35">Accurate predictions about you</text>
<rect x="242" y="555.3" width="182.5" height="26.40000000000009" rx="13.200000000000045" fill="#fff"/><rect x="243.8" y="557.0999999999999" width="178.9" height="22.80000000000009" rx="11.400000000000045" fill="#ee3b30"/><text class="lbl" x="253.2" y="572.5" textLength="160.10000000000002" lengthAdjust="spacingAndGlyphs" stroke="#fff" stroke-width="0.35">High-level description of you</text>
</g>
</svg>
</body></html>
